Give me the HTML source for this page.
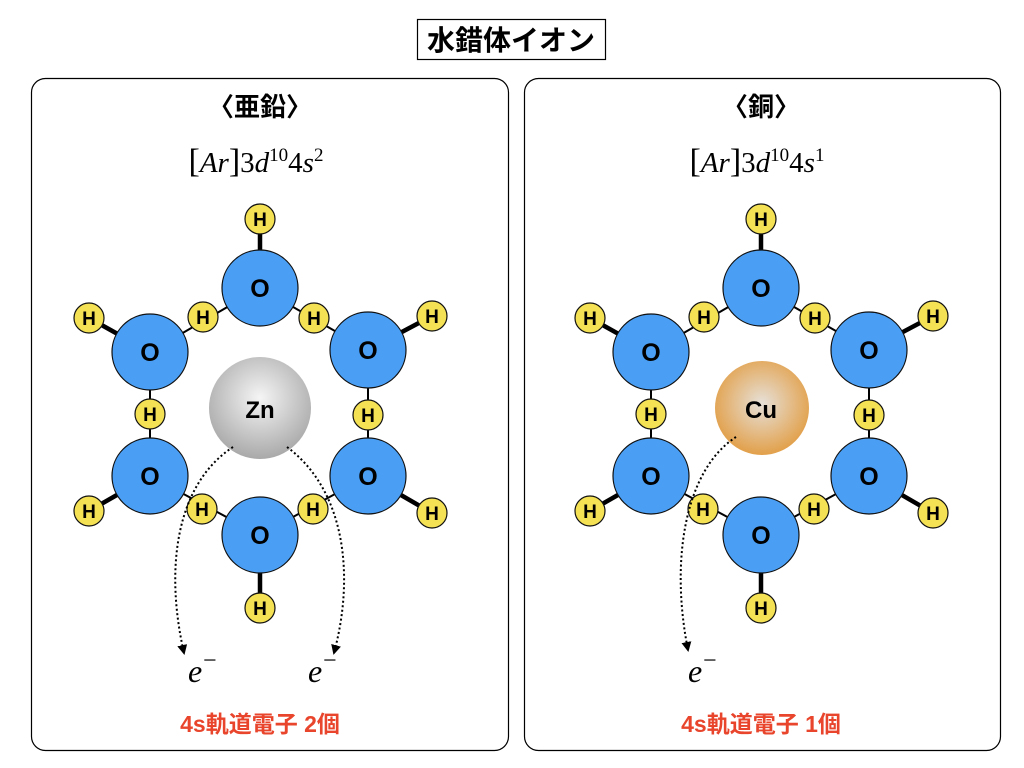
<!DOCTYPE html>
<html><head><meta charset="utf-8"><style>
html,body{margin:0;padding:0;background:#fff;width:1024px;height:768px;overflow:hidden}
svg text{font-family:"Liberation Sans","Noto Sans CJK JP",sans-serif}
.o{fill:#4a9ff5;stroke:#111;stroke-width:1.2}
.h{fill:#f5e154;stroke:#111;stroke-width:1.2}
.ot{font-size:25px;font-weight:bold;text-anchor:middle;fill:#000}
.ht{font-size:19px;font-weight:bold;text-anchor:middle;fill:#000}
.bt{stroke:#000;stroke-width:4.5}
.bn{stroke:#000;stroke-width:2}
.ser{font-family:"Liberation Serif","Noto Serif CJK SC",serif}
</style></head><body>
<svg width="1024" height="768" viewBox="0 0 1024 768" xmlns="http://www.w3.org/2000/svg">
<defs>
<radialGradient id="zn" cx="50%" cy="40%" r="60%"><stop offset="0" stop-color="#f5f5f5"/><stop offset="1" stop-color="#a9a9a9"/></radialGradient>
<radialGradient id="cu" cx="50%" cy="45%" r="55%"><stop offset="0" stop-color="#e6e0d8"/><stop offset="1" stop-color="#e2a04a"/></radialGradient>
<marker id="ar" markerWidth="10" markerHeight="10" refX="8" refY="5" orient="auto" markerUnits="userSpaceOnUse"><path d="M0,0 L10,5 L0,10 z" fill="#000"/></marker>
</defs>
<rect x="417.5" y="19.5" width="188" height="40" fill="#fff" stroke="#000" stroke-width="1.2"/>
<text x="511" y="50" font-size="28" font-weight="bold" text-anchor="middle">水錯体イオン</text>
<rect x="31.5" y="78.5" width="477" height="672" rx="14" fill="none" stroke="#000" stroke-width="1.2"/>
<rect x="524.5" y="78.5" width="476" height="672" rx="14" fill="none" stroke="#000" stroke-width="1.2"/>
<text x="260" y="116" font-size="26" font-weight="bold" text-anchor="middle">〈亜鉛〉</text>
<text x="761" y="116" font-size="26" font-weight="bold" text-anchor="middle">〈銅〉</text>
<text x="256" y="172" font-size="29" text-anchor="middle" class="ser"><tspan font-size="34">[</tspan><tspan font-style="italic">Ar</tspan><tspan font-size="34">]</tspan>3<tspan font-style="italic">d</tspan><tspan font-size="19" dy="-11">10</tspan><tspan dy="11">4</tspan><tspan font-style="italic">s</tspan><tspan font-size="19" dy="-11">2</tspan></text>
<text x="757" y="172" font-size="29" text-anchor="middle" class="ser"><tspan font-size="34">[</tspan><tspan font-style="italic">Ar</tspan><tspan font-size="34">]</tspan>3<tspan font-style="italic">d</tspan><tspan font-size="19" dy="-11">10</tspan><tspan dy="11">4</tspan><tspan font-style="italic">s</tspan><tspan font-size="19" dy="-11">1</tspan></text>

<g>
<line class="bt" x1="260" y1="219" x2="260" y2="288"/>
<line class="bt" x1="89" y1="318" x2="150" y2="352"/>
<line class="bt" x1="432" y1="316" x2="368" y2="350"/>
<line class="bt" x1="89" y1="511" x2="150" y2="476"/>
<line class="bt" x1="432" y1="513" x2="368" y2="476"/>
<line class="bt" x1="260" y1="608" x2="260" y2="535"/>
<line class="bn" x1="150" y1="352" x2="260" y2="288"/>
<line class="bn" x1="260" y1="288" x2="368" y2="350"/>
<line class="bn" x1="150" y1="352" x2="150" y2="476"/>
<line class="bn" x1="368" y1="350" x2="368" y2="476"/>
<line class="bn" x1="150" y1="476" x2="260" y2="535"/>
<line class="bn" x1="368" y1="476" x2="260" y2="535"/>
<circle class="o" cx="260" cy="288" r="38"/><circle class="o" cx="150" cy="352" r="38"/><circle class="o" cx="368" cy="350" r="38"/>
<circle class="o" cx="150" cy="476" r="38"/><circle class="o" cx="368" cy="476" r="38"/><circle class="o" cx="260" cy="535" r="38"/>
<text class="ot" x="260" y="297">O</text><text class="ot" x="150" y="361">O</text><text class="ot" x="368" y="359">O</text>
<text class="ot" x="150" y="485">O</text><text class="ot" x="368" y="485">O</text><text class="ot" x="260" y="544">O</text>
<circle class="h" cx="260" cy="219" r="15"/><circle class="h" cx="203" cy="317" r="15"/><circle class="h" cx="314" cy="318" r="15"/>
<circle class="h" cx="89" cy="318" r="15"/><circle class="h" cx="432" cy="316" r="15"/><circle class="h" cx="150" cy="414" r="15"/>
<circle class="h" cx="368" cy="415" r="15"/><circle class="h" cx="89" cy="511" r="15"/><circle class="h" cx="202" cy="509" r="15"/>
<circle class="h" cx="313" cy="509" r="15"/><circle class="h" cx="432" cy="513" r="15"/><circle class="h" cx="260" cy="608" r="15"/>
<text class="ht" x="260" y="226">H</text><text class="ht" x="203" y="324">H</text><text class="ht" x="314" y="325">H</text>
<text class="ht" x="89" y="325">H</text><text class="ht" x="432" y="323">H</text><text class="ht" x="150" y="421">H</text>
<text class="ht" x="368" y="422">H</text><text class="ht" x="89" y="518">H</text><text class="ht" x="202" y="516">H</text>
<text class="ht" x="313" y="516">H</text><text class="ht" x="432" y="520">H</text><text class="ht" x="260" y="615">H</text>
</g>
<circle cx="260" cy="408" r="51" fill="url(#zn)"/>
<text x="260" y="418" font-size="24" font-weight="bold" text-anchor="middle">Zn</text>
<path d="M233,447 C175,485 165,570 184,653" fill="none" stroke="#000" stroke-width="2" stroke-dasharray="2,2.5" marker-end="url(#ar)"/>
<path d="M287,447 C345,490 355,575 334,653" fill="none" stroke="#000" stroke-width="2" stroke-dasharray="2,2.5" marker-end="url(#ar)"/>
<text x="188" y="682" font-size="32" font-style="italic" class="ser">e</text><text x="203" y="668" font-size="24" class="ser">−</text>
<text x="308" y="682" font-size="32" font-style="italic" class="ser">e</text><text x="323" y="668" font-size="24" class="ser">−</text>
<text x="260" y="732" font-size="23" font-weight="bold" fill="#e8452c" text-anchor="middle">4s軌道電子 2個</text>

<g transform="translate(501,0)">
<line class="bt" x1="260" y1="219" x2="260" y2="288"/>
<line class="bt" x1="89" y1="318" x2="150" y2="352"/>
<line class="bt" x1="432" y1="316" x2="368" y2="350"/>
<line class="bt" x1="89" y1="511" x2="150" y2="476"/>
<line class="bt" x1="432" y1="513" x2="368" y2="476"/>
<line class="bt" x1="260" y1="608" x2="260" y2="535"/>
<line class="bn" x1="150" y1="352" x2="260" y2="288"/>
<line class="bn" x1="260" y1="288" x2="368" y2="350"/>
<line class="bn" x1="150" y1="352" x2="150" y2="476"/>
<line class="bn" x1="368" y1="350" x2="368" y2="476"/>
<line class="bn" x1="150" y1="476" x2="260" y2="535"/>
<line class="bn" x1="368" y1="476" x2="260" y2="535"/>
<circle class="o" cx="260" cy="288" r="38"/><circle class="o" cx="150" cy="352" r="38"/><circle class="o" cx="368" cy="350" r="38"/>
<circle class="o" cx="150" cy="476" r="38"/><circle class="o" cx="368" cy="476" r="38"/><circle class="o" cx="260" cy="535" r="38"/>
<text class="ot" x="260" y="297">O</text><text class="ot" x="150" y="361">O</text><text class="ot" x="368" y="359">O</text>
<text class="ot" x="150" y="485">O</text><text class="ot" x="368" y="485">O</text><text class="ot" x="260" y="544">O</text>
<circle class="h" cx="260" cy="219" r="15"/><circle class="h" cx="203" cy="317" r="15"/><circle class="h" cx="314" cy="318" r="15"/>
<circle class="h" cx="89" cy="318" r="15"/><circle class="h" cx="432" cy="316" r="15"/><circle class="h" cx="150" cy="414" r="15"/>
<circle class="h" cx="368" cy="415" r="15"/><circle class="h" cx="89" cy="511" r="15"/><circle class="h" cx="202" cy="509" r="15"/>
<circle class="h" cx="313" cy="509" r="15"/><circle class="h" cx="432" cy="513" r="15"/><circle class="h" cx="260" cy="608" r="15"/>
<text class="ht" x="260" y="226">H</text><text class="ht" x="203" y="324">H</text><text class="ht" x="314" y="325">H</text>
<text class="ht" x="89" y="325">H</text><text class="ht" x="432" y="323">H</text><text class="ht" x="150" y="421">H</text>
<text class="ht" x="368" y="422">H</text><text class="ht" x="89" y="518">H</text><text class="ht" x="202" y="516">H</text>
<text class="ht" x="313" y="516">H</text><text class="ht" x="432" y="520">H</text><text class="ht" x="260" y="615">H</text>
</g>
<circle cx="762" cy="408" r="47" fill="url(#cu)"/>
<text x="761" y="418" font-size="24" font-weight="bold" text-anchor="middle">Cu</text>
<path d="M736,437 C685,470 670,560 688,650" fill="none" stroke="#000" stroke-width="2" stroke-dasharray="2,2.5" marker-end="url(#ar)"/>
<text x="688" y="682" font-size="32" font-style="italic" class="ser">e</text><text x="703" y="668" font-size="24" class="ser">−</text>
<text x="761" y="732" font-size="23" font-weight="bold" fill="#e8452c" text-anchor="middle">4s軌道電子 1個</text>
</svg>
</body></html>
